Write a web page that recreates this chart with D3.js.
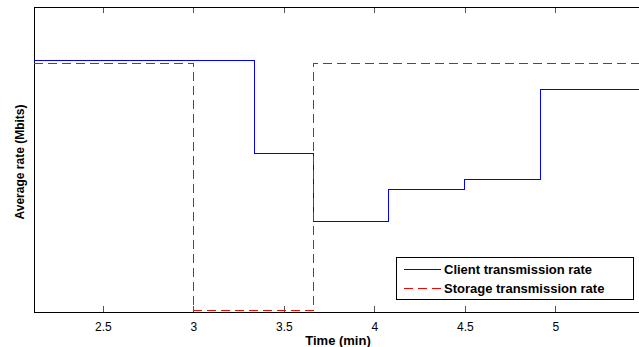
<!DOCTYPE html>
<html>
<head>
<meta charset="utf-8">
<script src="https://cdn.jsdelivr.net/npm/d3@7"></script>
<style>
  body { margin: 0; background: #fff; }
  text { font-family: Arial, "Liberation Sans", sans-serif; }
</style>
</head>
<body>
<svg id="chart" width="639" height="347"></svg>
<script>
// step data (y has no labels, arbitrary units)
let clientTimes = [2.12, 3.337, 3.664, 4.08, 4.5, 4.92, 5.5];
let clientRates = [8.26, 5.21, 2.98, 4.03, 4.36, 7.31, 7.31];
let storageTimes = [2.12, 3.0, 3.664, 5.5];
let storageRates = [8.16, 0.05, 8.16, 8.16];
let xTicks = [2.5, 3, 3.5, 4, 4.5, 5];
let legendLabels = ['Client transmission rate', 'Storage transmission rate'];

let svg = d3.select('#chart');
let mLeft = 34, mTop = 7, mBottom = 312, mRight = 646;

let x = d3.scaleLinear().domain([2.12, 5.5]).range([mLeft, mRight]);
let y = d3.scaleLinear().domain([0, 10]).range([mBottom, mTop]);

// ticks inside the box, top and bottom
svg.append('g')
    .attr('transform', `translate(0,${mBottom})`)
    .call(d3.axisBottom(x).tickValues(xTicks).tickSizeInner(-6).tickSizeOuter(0).tickPadding(10)
        .tickFormat(d3.format('')))
    .call(g => g.select('.domain').remove())
    .call(g => g.selectAll('line').attr('stroke', '#555').attr('shape-rendering', 'crispEdges'))
    .call(g => g.selectAll('text').attr('font-size', 12).attr('fill', '#000'));
svg.append('g')
    .attr('transform', `translate(0,${mTop})`)
    .call(d3.axisTop(x).tickValues(xTicks).tickSizeInner(-6).tickSizeOuter(0).tickFormat(''))
    .call(g => g.select('.domain').remove())
    .call(g => g.selectAll('line').attr('stroke', '#555').attr('shape-rendering', 'crispEdges'));

// frame (right side falls outside the window)
svg.append('rect')
    .attr('x', mLeft + 0.5).attr('y', mTop + 0.5)
    .attr('width', mRight - mLeft).attr('height', mBottom - mTop)
    .attr('fill', 'none').attr('stroke', '#000').attr('stroke-width', 1)
    .attr('shape-rendering', 'crispEdges');

let line = d3.line()
    .x(d => x(d[0]))
    .y(d => y(d[1]))
    .curve(d3.curveStepAfter);

svg.append('path')
    .attr('d', line(d3.zip(clientTimes, clientRates)))
    .attr('fill', 'none').attr('stroke', '#0000ff').attr('stroke-width', 1)
    .attr('shape-rendering', 'crispEdges');

svg.append('path')
    .attr('d', line(d3.zip(storageTimes, storageRates)))
    .attr('fill', 'none').attr('stroke', '#ff0000').attr('stroke-width', 1)
    .attr('stroke-dasharray', '9,5')
    .attr('shape-rendering', 'crispEdges');

// axis titles
svg.append('text')
    .attr('x', 338).attr('y', 345)
    .attr('text-anchor', 'middle')
    .attr('font-size', 13).attr('font-weight', 'bold')
    .text('Time (min)');
svg.append('text')
    .attr('transform', 'translate(24,162) rotate(-90)')
    .attr('text-anchor', 'middle')
    .attr('font-size', 12).attr('font-weight', 'bold')
    .text('Average rate (Mbits)');

// legend
let legend = svg.append('g').attr('transform', 'translate(396,257)');
legend.append('rect')
    .attr('x', 0.5).attr('y', 0.5).attr('width', 237).attr('height', 42)
    .attr('fill', '#fff').attr('stroke', '#000').attr('shape-rendering', 'crispEdges');
let styles = [{c: '#0000ff', dash: null}, {c: '#ff0000', dash: '9,5'}];
legendLabels.forEach(function (t, i) {
    let yy = 12 + i * 19;
    legend.append('line')
        .attr('x1', 8).attr('x2', 45).attr('y1', yy).attr('y2', yy)
        .attr('stroke', styles[i].c).attr('stroke-dasharray', styles[i].dash)
        .attr('shape-rendering', 'crispEdges');
    legend.append('text')
        .attr('x', 48).attr('y', yy + 5)
        .attr('font-size', 13).attr('font-weight', 'bold')
        .text(t);
});
</script>
</body>
</html>
